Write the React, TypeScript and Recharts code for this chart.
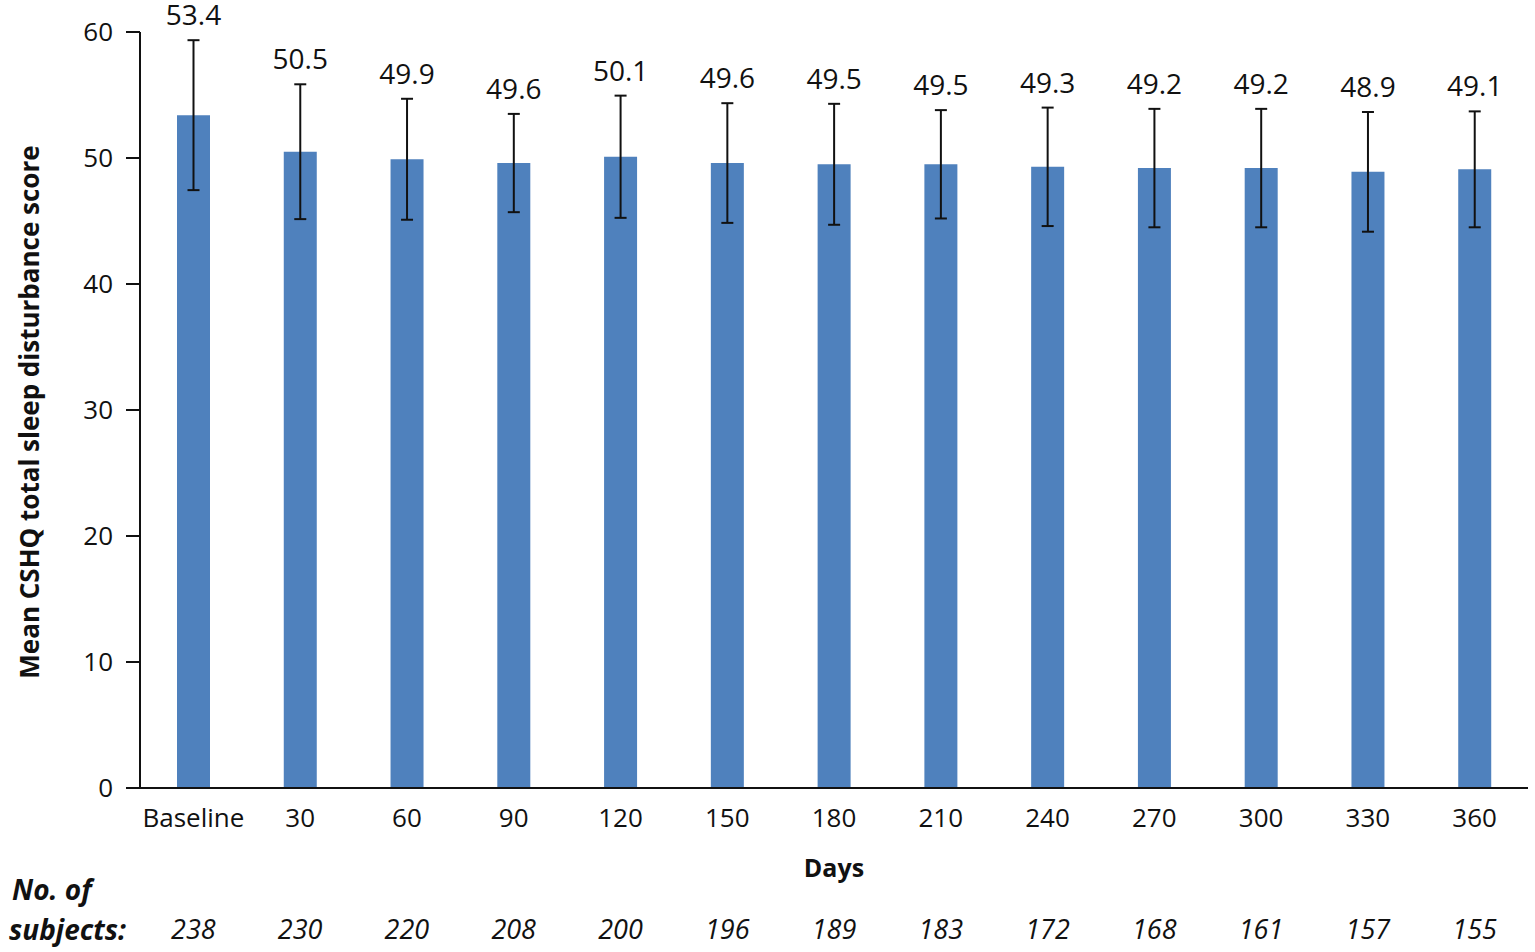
import React from 'react';
import { BarChart, Bar, XAxis, YAxis, ErrorBar, LabelList } from 'recharts';

// CSHQ totals by visit
const days = ['Baseline', '30', '60', '90', '120', '150', '180', '210', '240', '270', '300', '330', '360'];
const means = [53.4, 50.5, 49.9, 49.6, 50.1, 49.6, 49.5, 49.5, 49.3, 49.2, 49.2, 48.9, 49.1];
const sds = [5.95, 5.35, 4.8, 3.9, 4.85, 4.75, 4.8, 4.3, 4.7, 4.7, 4.7, 4.75, 4.6];
const subjects = [238, 230, 220, 208, 200, 196, 189, 183, 172, 168, 161, 157, 155];
const yTicks = [0, 10, 20, 30, 40, 50, 60];

const FONT = '"Open Sans", sans-serif';
const BAR_COLOR = '#4F81BD';

const data = days.map((d, i) => ({ day: d, mean: means[i], sd: sds[i] }));

// value label sits above the upper whisker, not the bar top
const MeanLabel = (props: any) => {
  const { x, y, width, height, value, index } = props;
  const pxPerUnit = Number(height) / Number(value);
  const top = Number(y) - sds[index] * pxPerUnit;
  return (
    <text x={Number(x) + Number(width) / 2} y={top - 15} textAnchor="middle" fontSize={28} fill="#111" fontFamily={FONT}>
      {Number(value).toFixed(1)}
    </text>
  );
};

const YTitle = (props: any) => {
  const vb = props.viewBox || {};
  const cy = vb.y + vb.height / 2 + 2;
  return (
    <text x={39} y={cy} transform={`rotate(-90, 39, ${cy})`} textAnchor="middle" fontSize={26} fontWeight="bold" fill="#111" fontFamily={FONT}>
      Mean CSHQ total sleep disturbance score
    </text>
  );
};

const DaysTitle = (props: any) => {
  const vb = props.viewBox || {};
  return (
    <text x={vb.x + vb.width / 2} y={877} textAnchor="middle" fontSize={25} fontWeight="bold" fill="#111" fontFamily={FONT}>
      Days
    </text>
  );
};

const SubjectsTitle = () => (
  <text fontSize={28} fontWeight="bold" fontStyle="italic" fill="#111" fontFamily={FONT}>
    <tspan x={12} y={900}>No. of</tspan>
    <tspan x={9} y={940}>subjects:</tspan>
  </text>
);

export default function App() {
  return (
    <div style={{ position: 'absolute', left: 0, top: 0, width: 1535, height: 952, background: '#fff' }}>
      <BarChart
        width={1535}
        height={952}
        data={data}
        margin={{ top: 32, right: 7, left: 0, bottom: 0 }}
        barCategoryGap={0}
        style={{ fontFamily: FONT }}
      >
        <XAxis
          dataKey="day"
          height={100}
          axisLine={{ stroke: '#111', strokeWidth: 2 }}
          tickLine={false}
          tickSize={0}
          tickMargin={21}
          interval={0}
          tick={{ fill: '#111', fontSize: 26 }}
          label={<DaysTitle />}
        />
        <XAxis
          xAxisId="n"
          dataKey="day"
          height={64}
          axisLine={false}
          tickLine={false}
          tickSize={0}
          tickMargin={32}
          interval={0}
          tickFormatter={(_v: any, i: number) => String(subjects[i])}
          tick={{ fill: '#111', fontSize: 27, fontStyle: 'italic' }}
          label={<SubjectsTitle />}
        />
        <YAxis
          width={140}
          domain={[0, 60]}
          ticks={yTicks}
          interval={0}
          axisLine={{ stroke: '#111', strokeWidth: 2 }}
          tickLine={{ stroke: '#111', strokeWidth: 2 }}
          tickSize={14}
          tickMargin={13}
          tick={{ fill: '#111', fontSize: 26 }}
          label={<YTitle />}
        />
        <Bar dataKey="mean" fill={BAR_COLOR} barSize={33} isAnimationActive={false}>
          <ErrorBar dataKey="sd" direction="y" width={6} stroke="#111" strokeWidth={2} />
          <LabelList dataKey="mean" content={<MeanLabel />} />
        </Bar>
      </BarChart>
    </div>
  );
}
